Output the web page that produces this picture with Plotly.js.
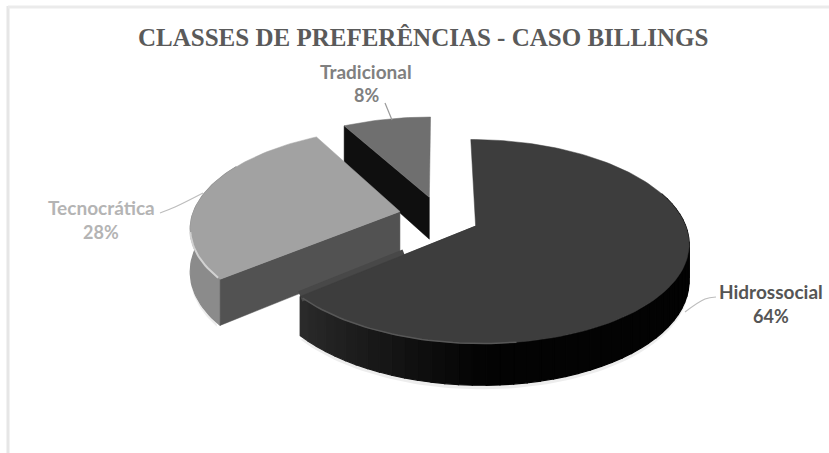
<!DOCTYPE html>
<html>
<head>
<meta charset="utf-8">
<script src="https://cdn.plot.ly/plotly-3.0.1.min.js"></script>
<style>html,body{margin:0;padding:0;background:#fff}#chart{width:829px;height:453px}</style>
</head>
<body>
<div id="chart"></div>
<script>
// Preference classes, in percent, clockwise from twelve o'clock
const categories = ["Hidrossocial", "Tecnocrática", "Tradicional"];
const shares = [64, 28, 8];
const topColors = ["#3d3d3d", "#a2a2a2", "#6f6f6f"];
const labelColors = ["#555555", "#b4b4b4", "#808080"];
const chartTitle = "CLASSES DE PREFERÊNCIAS - CASO BILLINGS";

// Perspective view of the disc plane and the exploded layout
const view = {ox: 439, oy: 215, sx: 222, sy: 104, k: 0.16, pull: 0.18, radius: 0.935};
const wallHeights = [35, 42, 43];
const sliceShiftY = [3, 0, 0];

// Slice angles follow directly from the shares
let running = 0;
const slices = shares.map((s, i) => {
  const start = running * 3.6, end = (running + s) * 3.6;
  running += s;
  const mid = (start + end) / 2 * Math.PI / 180;
  return {i, start, end, px: view.pull * Math.sin(mid), py: view.pull * Math.cos(mid)};
});
const [hidro, tecno, trad] = slices;

function project(slice, p, drop) {
  const w = 1 + view.k * p[1];
  return [view.ox + view.sx * p[0] / w,
          view.oy + sliceShiftY[slice.i] - view.sy * p[1] / w + (drop ? wallHeights[slice.i] / w : 0)];
}
function slicePoint(slice, deg) {
  const a = deg * Math.PI / 180;
  return [slice.px + view.radius * Math.sin(a), slice.py + view.radius * Math.cos(a)];
}
function arc(slice, from, to) {
  const n = Math.max(2, Math.ceil(Math.abs(to - from) / 1.5));
  const pts = [];
  for (let i = 0; i <= n; i++) pts.push(slicePoint(slice, from + (to - from) * i / n));
  return pts;
}
function path(slice, points, drop) { return points.map(p => project(slice, p, drop)); }

function poly(points, color, width) {
  const closed = points.concat([points[0]]);
  return {
    x: closed.map(p => p[0]), y: closed.map(p => p[1]),
    mode: "lines", fill: "toself", fillcolor: color,
    line: {color: color, width: width === undefined ? 0.5 : width},
    hoverinfo: "skip", showlegend: false, type: "scatter"
  };
}
function stroke(points, color, width, shape) {
  return {
    x: points.map(p => p[0]), y: points.map(p => p[1]),
    mode: "lines", line: {color: color, width: width, shape: shape || "linear"},
    hoverinfo: "skip", showlegend: false, type: "scatter"
  };
}
function rim(slice, from, to, colorAt, segments) {
  const parts = [];
  for (let s = 0; s < segments; s++) {
    const a = from + (to - from) * s / segments, b = from + (to - from) * (s + 1) / segments;
    const pts = arc(slice, a, b);
    parts.push(poly(path(slice, pts, false).concat(path(slice, pts, true).reverse()), colorAt((a + b) / 2), 1.2));
  }
  return parts;
}
function radialWall(slice, deg, color) {
  const centre = [slice.px, slice.py], edge = slicePoint(slice, deg);
  return poly([project(slice, centre), project(slice, edge),
               project(slice, edge, true), project(slice, centre, true)], color);
}
function topFace(slice) {
  return path(slice, [[slice.px, slice.py]].concat(arc(slice, slice.start, slice.end)));
}
function grey(v) { const g = Math.round(v); return "rgb(" + g + "," + g + "," + g + ")"; }

const traces = [];

// Faint contact shadow under the discs
const shadowOf = (slice, from, to) => path(slice, arc(slice, from, to), true).map(p => [p[0], p[1] + 4]);
traces.push(poly(shadowOf(hidro, 90, hidro.end), "rgba(0,0,0,0.07)", 0));
traces.push(poly(shadowOf(tecno, 232, 285), "rgba(0,0,0,0.07)", 0));

// Tradicional sits furthest back
traces.push(radialWall(trad, trad.start, "#0f0f0f"));
traces.push(poly(topFace(trad), topColors[2]));

// Tecnocrática: outer rim, cut face, top with a light bevel along the lower rim
traces.push(...rim(tecno, tecno.start, 300, () => "#8b8b8b", 1));
traces.push(radialWall(tecno, tecno.start, "#525252"));
traces.push(poly(topFace(tecno), topColors[1]));
traces.push(stroke(path(tecno, arc(tecno, tecno.start + 1, 258)), "#d2d2d2", 2));

// Hidrossocial: rim shaded from black towards grey at its cut end
traces.push(radialWall(hidro, hidro.end, "#2b2b2b"));
traces.push(...rim(hidro, 70, hidro.end, d => grey(d < 180 ? 3 : 3 + (d - 180) * 0.8), 50));

// Seam where the cut face of Tecnocrática runs into the Hidrossocial top
const seamEnd = slicePoint(hidro, hidro.end);
const seamStart = [hidro.px + (seamEnd[0] - hidro.px) * 0.43, hidro.py + (seamEnd[1] - hidro.py) * 0.43];
traces.push(stroke(path(hidro, [seamStart, seamEnd]), "#484848", 11));

traces.push(poly(topFace(hidro), topColors[0]));
traces.push(stroke(path(hidro, arc(hidro, 172, hidro.end - 1)), "#575757", 1.5));

// Leader lines from each slice to its label
traces.push(stroke([[716, 297], [705, 299], [685, 312]], "#bdbdbd", 1.2, "spline"));
traces.push(stroke([[160, 213], [175, 207], [203, 193]], "#bdbdbd", 1.2, "spline"));
traces.push(stroke([[385, 103], [392, 120]], "#9a9a9a", 1.2));

// Label anchor points in axis units
const labelX = [771, 101, 366];
const labelY = [291, 207, 71];
const pctY = [316, 232, 95];
const annotations = [];
categories.forEach((c, i) => {
  annotations.push({x: labelX[i], y: labelY[i], xref: "x", yref: "y", text: "<b>" + c + "</b>", showarrow: false,
    font: {family: "Lato, sans-serif", size: 19, color: labelColors[i]}});
  annotations.push({x: labelX[i], y: pctY[i], xref: "x", yref: "y", text: "<b>" + shares[i] + "%</b>", showarrow: false,
    font: {family: "Lato, sans-serif", size: 18, color: labelColors[i]}});
});
annotations.push({x: 422.5, y: 37, xref: "x", yref: "y", text: "<b>" + chartTitle + "</b>", showarrow: false,
  font: {family: "Liberation Serif, serif", size: 25, color: "#5a5a5a"}});

const layout = {
  width: 829, height: 453,
  margin: {l: 0, r: 0, t: 0, b: 0},
  paper_bgcolor: "#ffffff", plot_bgcolor: "#ffffff",
  xaxis: {range: [0, 829], visible: false, fixedrange: true},
  yaxis: {range: [453, 0], visible: false, fixedrange: true},
  showlegend: false,
  annotations,
  shapes: [
    {type: "line", xref: "x", yref: "y", x0: 8, x1: 8, y0: 6, y1: 453, line: {color: "#e6e6e6", width: 3}},
    {type: "line", xref: "x", yref: "y", x0: 8, x1: 829, y0: 7, y1: 7, line: {color: "#ebebeb", width: 3}}
  ]
};
Plotly.newPlot("chart", traces, layout, {displayModeBar: false, staticPlot: true});
</script>
</body>
</html>
